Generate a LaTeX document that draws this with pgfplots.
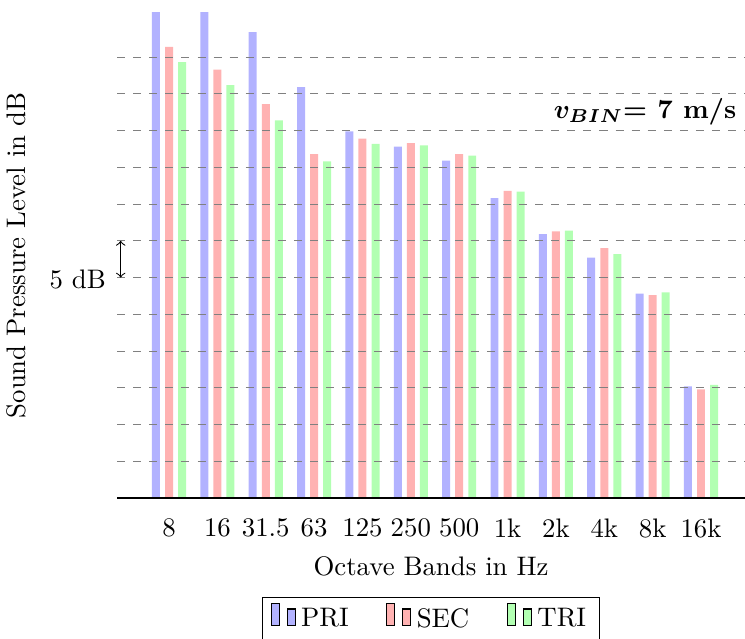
\documentclass[border=0pt]{standalone}
\usepackage{pgfplots}
\pgfplotsset{compat=1.18}
\usepackage{bm}
\begin{document}
\begin{tikzpicture}
\begin{axis}[
  name=ax,
  scale only axis,
  axis on top,
  width=234.3pt, height=181pt,
  ybar, bar width=0.165,
  xmin=-1.074, xmax=11.91,
  ymin=0, ymax=66,
  xtick={0,...,11},
  xticklabels={8,16,31.5,63,125,250,500,1k,2k,4k,8k,16k},
  ytick={5,10,...,60},
  yticklabels={},
  ymajorgrids,
  major grid style={dashed, gray},
  axis x line*=bottom,
  axis y line*=left,
  y axis line style={draw=none},
  tick style={draw=none},
  xlabel={Octave Bands in Hz},
  ylabel={Sound Pressure Level in dB},
  ylabel style={at={(axis description cs:-0.1306,0.5)}, anchor=south},
  legend columns=3,
  legend style={at={(0.5,-0.204)}, anchor=north, draw=black,
    /tikz/every even column/.append style={column sep=12pt}},
  legend image post style={draw=black},
  after end axis/.append code={
    \draw[<->] (axis cs:-1.0,30) -- (axis cs:-1.0,35);
    \node[left, xshift=-2pt] at (axis cs:-1.0,29.7) {5 dB};
    \node[anchor=base east, inner sep=0pt] at (rel axis cs:0.987,0.7835) {$\bm{v_{BIN}}$\textbf{= 7 m/s}};
  },
]
\addplot[draw=none, fill=blue!30, bar shift=-0.27] coordinates {
  (0,68) (1,68) (2,63.4) (3,55.9) (4,49.9) (5,47.8) (6,45.9) (7,40.8) (8,35.9) (9,32.7) (10,27.8) (11,15.2)};
\addlegendentry{PRI}
\addplot[draw=none, fill=red!30, bar shift=0] coordinates {
  (0,61.4) (1,58.3) (2,53.6) (3,46.8) (4,48.9) (5,48.3) (6,46.8) (7,41.8) (8,36.3) (9,34.0) (10,27.6) (11,14.8)};
\addlegendentry{SEC}
\addplot[draw=none, fill=green!30, bar shift=0.27] coordinates {
  (0,59.3) (1,56.2) (2,51.4) (3,45.8) (4,48.2) (5,48.0) (6,46.6) (7,41.7) (8,36.4) (9,33.2) (10,28.0) (11,15.4)};
\addlegendentry{TRI}
\end{axis}
\pgfresetboundingbox
\path[use as bounding box] ([shift={(-43.7pt,-52.6pt)}]ax.south west) rectangle ([shift={(0pt,4.85pt)}]ax.north east);
\end{tikzpicture}
\end{document}
